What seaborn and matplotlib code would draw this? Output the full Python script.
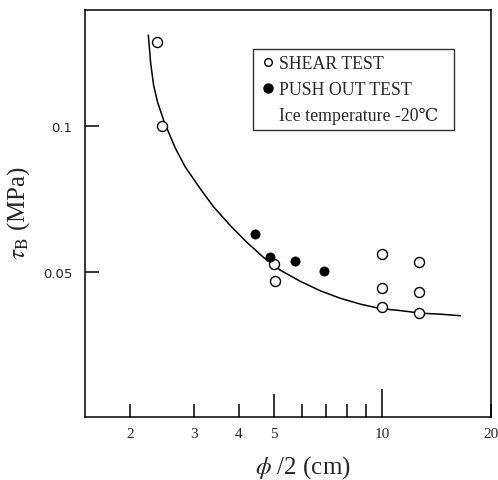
import matplotlib
matplotlib.use("Agg")
from matplotlib import pyplot as plt
from matplotlib.lines import Line2D
import matplotlib.ticker as mtick
import pandas as pd
import seaborn as sns

# values (log-log axes)
shear_d = [2.38, 2.45, 5.0, 5.03, 10.0, 10.0, 10.0, 12.6, 12.6, 12.6]
shear_tau = [0.149, 0.100, 0.0519, 0.0480, 0.0544, 0.0464, 0.0424, 0.0526, 0.0456, 0.0412]

push_d = [4.44, 4.87, 5.74, 6.87]
push_tau = [0.0598, 0.0537, 0.0528, 0.0503]

# fitted curve, traced point by point
curve_d = [2.247, 2.279, 2.323, 2.381, 2.485, 2.666, 2.841, 3.127, 3.404, 3.787, 4.214, 4.677,
           5.213, 5.924, 6.730, 7.647, 8.690, 9.87, 11.22, 12.75, 14.48, 16.46]
curve_tau = [0.1536, 0.1352, 0.1213, 0.1121, 0.1020, 0.0901, 0.0824, 0.0743, 0.0682, 0.0624,
             0.0576, 0.0537, 0.0505, 0.0479, 0.0458, 0.0442, 0.0430, 0.0421, 0.0417, 0.0412,
             0.0410, 0.0407]

xticks = [2, 3, 4, 5, 10, 20]
xminor = [6, 7, 8, 9]
yticks = [0.05, 0.1]
ytick_labels = ["0.05", "0.1"]

legend_labels = ["SHEAR TEST", "PUSH OUT TEST", "Ice temperature -20\u2103"]

sns.set_style("white")
plt.rcParams["mathtext.fontset"] = "stix"
serif = ["Liberation Serif", "DejaVu Serif", "DejaVu Sans"]

shear = pd.DataFrame({"d": shear_d, "tau": shear_tau})
push = pd.DataFrame({"d": push_d, "tau": push_tau})
curve = pd.DataFrame({"d": curve_d, "tau": curve_tau})

fig = plt.figure(figsize=(4.98, 4.81), dpi=100)
ax = fig.add_axes([85 / 498, 1 - 418 / 481, 406 / 498, 407 / 481])

sns.lineplot(data=curve, x="d", y="tau", ax=ax, color="black", linewidth=1.1)
sns.scatterplot(data=shear, x="d", y="tau", ax=ax, marker="o", s=52,
                facecolor="white", edgecolor="black", linewidth=1.0, zorder=3)
sns.scatterplot(data=push, x="d", y="tau", ax=ax, marker="o", s=44,
                color="black", edgecolor="black", linewidth=0.5, zorder=3)

ax.set_xscale("log")
ax.set_yscale("log")
ax.set_xlim(1.5, 20)
ax.set_ylim(0.0252, 0.173)

ax.xaxis.set_major_locator(mtick.FixedLocator(xticks))
ax.xaxis.set_major_formatter(mtick.FixedFormatter([str(t) for t in xticks]))
ax.xaxis.set_minor_locator(mtick.FixedLocator(xminor))
ax.xaxis.set_minor_formatter(mtick.NullFormatter())
ax.yaxis.set_major_locator(mtick.FixedLocator(yticks))
ax.yaxis.set_major_formatter(mtick.FixedFormatter(ytick_labels))
ax.yaxis.set_minor_locator(mtick.NullLocator())

ax.tick_params(axis="x", which="both", bottom=True, direction="in", length=9.5,
               width=1.1, pad=7, labelsize=11, color="black")
ax.tick_params(axis="y", which="major", left=True, direction="in", length=10,
               width=1.1, pad=9, labelsize=9.5, color="black")
for lab in ax.get_xticklabels():
    lab.set_family(serif)
for lab in ax.get_yticklabels():
    lab.set_family(["DejaVu Sans"])

# the 5 and 10 ticks are drawn longer
for t, val in zip(ax.xaxis.get_major_ticks(), xticks):
    if val == 5:
        t.tick1line.set_markersize(16.5)
    elif val == 10:
        t.tick1line.set_markersize(20)

for s in ax.spines.values():
    s.set_color("black")
    s.set_linewidth(1.1)

ax.set_xlabel(r"$\phi$ /2 (cm)", fontsize=18, family=serif)
ax.set_ylabel(r"$\tau_{\rm B}$ (MPa)", fontsize=18, family=serif)
ax.xaxis.set_label_coords(0.537, -0.088)
ax.yaxis.set_label_coords(-0.13, 0.505)

handles = [
    Line2D([], [], marker="o", linestyle="none", markerfacecolor="white",
           markeredgecolor="black", markersize=5.5, markeredgewidth=1.0),
    Line2D([], [], marker="o", linestyle="none", markerfacecolor="black",
           markeredgecolor="black", markersize=6.5),
    Line2D([], [], linestyle="none"),
]
leg = ax.legend(handles, legend_labels, loc="upper left",
                bbox_to_anchor=(0.413, 0.709, 0.495, 0.195), mode="expand",
                borderaxespad=0, frameon=True, fancybox=False, edgecolor="black",
                handlelength=1.0, handletextpad=0.15, labelspacing=0.5,
                borderpad=0.35, prop={"family": serif, "size": 12.8})
leg.get_frame().set_linewidth(1.0)

fig.savefig("out.png", dpi=100)
